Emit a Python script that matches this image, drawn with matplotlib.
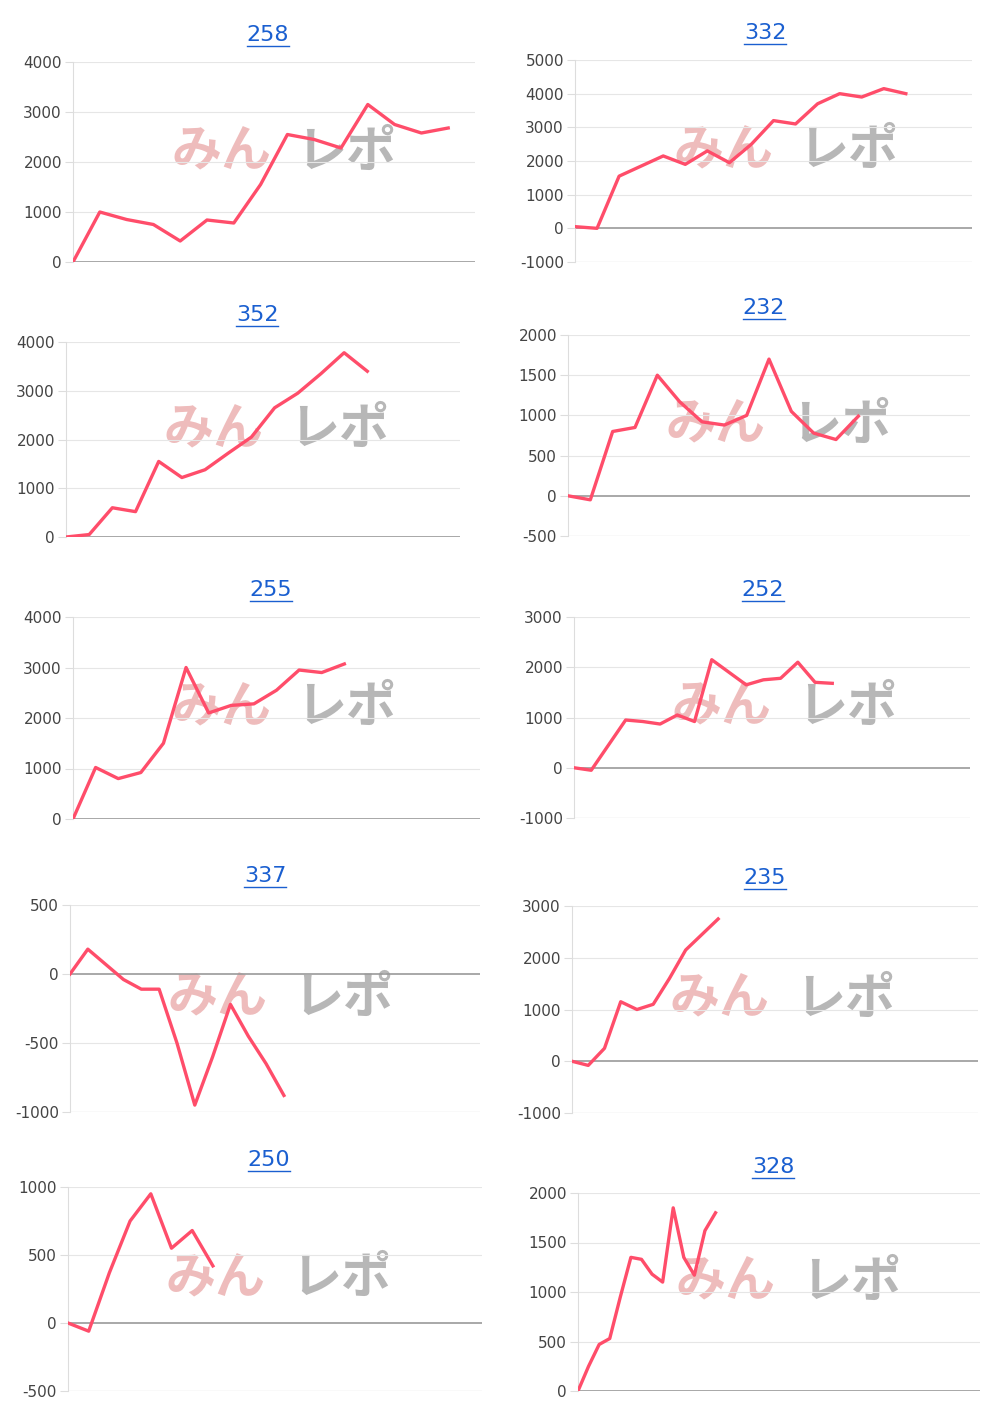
import matplotlib
matplotlib.use("Agg")
import matplotlib.pyplot as plt

titles = ["258", "332", "352", "232", "255", "252", "337", "235", "250", "328"]
series = [
    [0, 1000, 850, 750, 420, 840, 780, 1550, 2550, 2450, 2280, 3150, 2750, 2580, 2680],
    [50, 0, 1550, 1850, 2150, 1900, 2300, 1950, 2500, 3200, 3100, 3700, 4000, 3900, 4150, 4000],
    [0, 50, 600, 520, 1550, 1220, 1380, 1720, 2050, 2650, 2950, 3350, 3780, 3400],
    [0, -50, 800, 850, 1500, 1170, 920, 880, 1000, 1700, 1050, 780, 700, 990],
    [0, 1020, 800, 920, 1500, 3000, 2100, 2250, 2280, 2550, 2950, 2900, 3070],
    [0, -50, 450, 950, 920, 870, 1050, 920, 2150, 1900, 1650, 1750, 1780, 2100, 1700, 1680],
    [0, 180, 70, -40, -110, -110, -500, -950, -600, -220, -450, -650, -880],
    [0, -80, 250, 1150, 1000, 1100, 1600, 2150, 2450, 2750],
    [0, -60, 370, 750, 950, 550, 680, 420],
    [0, 250, 470, 530, 950, 1350, 1330, 1180, 1100, 1850, 1350, 1170, 1620, 1800],
]
yticks = [
    [0, 1000, 2000, 3000, 4000],
    [-1000, 0, 1000, 2000, 3000, 4000, 5000],
    [0, 1000, 2000, 3000, 4000],
    [-500, 0, 500, 1000, 1500, 2000],
    [0, 1000, 2000, 3000, 4000],
    [-1000, 0, 1000, 2000, 3000],
    [-1000, -500, 0, 500],
    [-1000, 0, 1000, 2000, 3000],
    [-500, 0, 500, 1000],
    [0, 500, 1000, 1500, 2000],
]
xslots = [15, 18, 17, 18, 18, 23, 23, 25, 20, 38]
boxes = [
    (73, 475, 62, 262, 268, 35),
    (575, 972, 60, 262, 765, 33),
    (66, 460, 342, 537, 257, 315),
    (568, 970, 335, 536, 764, 308),
    (73, 480, 617, 819, 271, 590),
    (574, 970, 617, 818, 763, 590),
    (70, 480, 905, 1112, 265, 876),
    (572, 978, 906, 1113, 765, 878),
    (68, 482, 1187, 1391, 269, 1160),
    (578, 980, 1193, 1391, 773, 1167),
]
W, H = 1000, 1411
fig = plt.figure(figsize=(10, 14.11), dpi=100)
for i in range(10):
    l, r, t, b, tx, ty = boxes[i]
    ax = fig.add_axes([l / W, 1 - b / H, (r - l) / W, (b - t) / H])
    yt = yticks[i]
    ax.set_ylim(yt[0], yt[-1])
    ax.set_xlim(0, xslots[i])
    ax.set_yticks(yt)
    ax.set_yticklabels([str(v) for v in yt], fontsize=11, color="#444")
    ax.set_xticks([])
    for s in ["top", "right", "bottom"]:
        ax.spines[s].set_visible(False)
    ax.spines["left"].set_color("#dddddd")
    ax.tick_params(axis="y", length=6, color="#dddddd", pad=2)
    for v in yt:
        ax.axhline(v, color="#999" if v == 0 or v == yt[0] else "#e6e6e6",
                   lw=1.2 if v == 0 else 0.8, zorder=0)
    wx0 = (l + 0.24 * (r - l) + (0 if i % 2 == 0 else 0)) / W
    axw = fig.add_axes([0, 0, 1, 1], facecolor="none")
    axw.set_axis_off()
    midy = 1 - (t + 0.45 * (b - t)) / H
    x0 = (boxes[i][0] + 98) / W
    axw.text(x0, midy, "みん", fontsize=36, fontweight="bold",
             color="#e8a0a0", alpha=0.7, style="italic", va="center", ha="left",
             family=["Noto Sans CJK JP"], zorder=1)
    axw.text(x0 + 0.125, midy, "レポ", fontsize=36, fontweight="bold",
             color="#999999", alpha=0.7, style="italic", va="center", ha="left",
             family=["Noto Sans CJK JP"], zorder=1)
    axw.set_xlim(0, 1); axw.set_ylim(0, 1)
    ax.set_zorder(2); ax.patch.set_alpha(0)
    ax.plot(range(len(series[i])), series[i], color="#ff4d6a", lw=2.4, zorder=3)
    fig.text(tx / W, 1 - ty / H, titles[i], fontsize=16, color="#1a5fd0",
             ha="center", va="center")
    fig.add_artist(plt.Line2D([(tx - 21) / W, (tx + 21) / W],
                              [1 - (ty + 11) / H] * 2, color="#1a5fd0", lw=1))
fig.savefig("out.png", dpi=100, facecolor="white")
